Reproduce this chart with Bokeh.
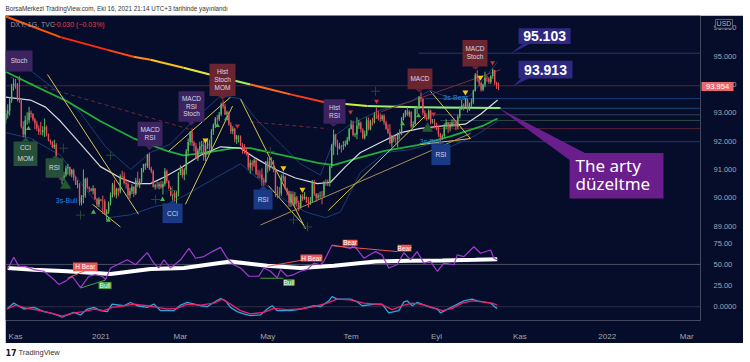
import pandas as pd
from bokeh.plotting import figure
from bokeh.models import Range1d, FixedTicker, ColumnDataSource, Spacer
from bokeh.layouts import column, row
from bokeh.embed import file_html
from bokeh.resources import INLINE
from bokeh.core.properties import value

# ---------------- data (DXY daily, TVC) ----------------
start_date = "2020-10-26"
opens = [92.75, 92.96, 93.06, 93.43, 93.92, 94.04, 94.02, 93.50, 93.43, 92.52,
         92.23, 92.74, 92.74, 93.00, 92.96, 92.76, 92.62, 92.45, 92.32, 92.31,
         92.39, 92.50, 92.23, 92.02, 91.97, 91.79, 91.87, 91.32, 91.13, 90.70,
         90.70, 90.79, 91.04, 91.09, 90.82, 90.97, 90.71, 90.46, 90.47, 89.83,
         90.03, 90.08, 90.66, 90.37, 90.32, 90.25, 90.33, 89.96, 89.76, 89.94,
         89.90, 89.88, 89.43, 89.53, 89.83, 90.10, 90.47, 90.11, 90.32, 90.23,
         90.77, 90.75, 90.51, 90.48, 90.09, 90.23, 90.38, 90.15, 90.61, 90.43,
         90.58, 91.03, 91.19, 91.12, 91.53, 91.04, 90.94, 90.39, 90.43, 90.41,
         90.48, 90.37, 90.49, 90.94, 90.59, 90.36, 90.08, 90.15, 90.00, 90.20,
         90.88, 91.03, 90.80, 90.98, 91.64, 91.97, 92.33, 91.95, 91.83, 91.39,
         91.68, 91.82, 91.88, 91.45, 91.85, 91.92, 91.73, 92.35, 92.57, 92.80,
         92.77, 92.95, 93.29, 93.23, 92.94, 93.02, 92.59, 92.35, 92.44, 92.07,
         92.17, 92.17, 91.85, 91.70, 91.68, 91.56, 91.07, 91.24, 91.15, 91.32,
         90.86, 90.83, 90.82, 90.62, 90.56, 91.28, 91.03, 91.29, 91.27, 90.99,
         90.22, 90.18, 90.15, 90.72, 90.75, 90.32, 90.23, 89.83, 90.13, 89.78,
         90.02, 89.82, 89.66, 90.06, 89.96, 90.03, 89.85, 89.83, 89.89, 90.53,
         90.14, 90.01, 90.08, 90.09, 90.07, 90.55, 90.51, 90.53, 91.11, 91.87,
         92.23, 91.88, 91.75, 91.82, 91.81, 91.85, 91.90, 92.06, 92.44, 92.58,
         92.22, 92.23, 92.55, 92.64, 92.42, 92.13, 92.23, 92.74, 92.42, 92.68,
         92.67, 92.94, 92.93, 92.80, 92.78, 92.90, 92.66, 92.44, 92.30, 91.93,
         92.17, 92.06, 92.05, 92.28, 92.26, 92.80, 92.93, 93.07, 92.93, 93.03,
         92.51, 92.60, 93.14, 93.18, 93.55, 93.50, 93.00, 92.83, 92.79, 93.07,
         92.66, 92.66, 92.63, 92.53, 92.25, 92.13, 92.18, 92.52, 92.67, 92.48,
         92.58, 92.66, 92.64, 92.51, 92.86, 93.19, 93.27, 93.22, 93.46, 93.10,
         93.33, 93.37, 93.78, 94.35, 94.23, 94.04, 93.81, 94.00, 94.23, 94.21,
         94.09, 94.30, 94.51, 94.05, 93.97]
highs = [93.12, 93.30, 93.55, 94.02, 94.20, 94.20, 94.05, 94.30, 93.48, 92.70,
         92.90, 93.02, 93.21, 93.08, 92.99, 92.82, 92.72, 92.55, 92.68, 92.53,
         92.80, 92.55, 92.27, 92.06, 92.00, 92.05, 91.93, 91.38, 91.16, 90.93,
         90.92, 91.14, 91.20, 91.10, 91.02, 91.03, 90.76, 90.62, 90.52, 90.10,
         91.00, 90.71, 90.72, 90.40, 90.35, 90.44, 90.35, 90.00, 90.02, 89.96,
         90.08, 89.95, 89.60, 89.87, 90.19, 90.53, 90.62, 90.36, 90.35, 90.83,
         90.95, 90.90, 90.65, 90.55, 90.35, 90.48, 90.42, 90.70, 90.92, 90.68,
         91.05, 91.20, 91.23, 91.55, 91.60, 91.10, 90.99, 90.50, 90.58, 90.55,
         90.60, 90.58, 91.05, 91.00, 90.62, 90.40, 90.19, 90.24, 90.23, 90.91,
         91.15, 91.11, 91.06, 91.72, 92.09, 92.36, 92.45, 92.01, 91.93, 91.75,
         91.98, 92.01, 92.01, 91.97, 92.10, 92.05, 92.43, 92.62, 92.85, 92.92,
         93.03, 93.36, 93.44, 93.33, 93.08, 93.05, 92.67, 92.53, 92.47, 92.22,
         92.21, 92.20, 91.93, 91.90, 91.76, 91.60, 91.35, 91.32, 91.38, 91.36,
         91.00, 90.97, 91.04, 90.71, 91.30, 91.43, 91.42, 91.44, 91.33, 91.01,
         90.41, 90.38, 90.82, 90.91, 90.78, 90.36, 90.26, 90.23, 90.23, 90.20,
         90.07, 89.90, 90.12, 90.13, 90.20, 90.05, 90.02, 90.03, 90.63, 90.64,
         90.17, 90.16, 90.22, 90.24, 90.60, 90.65, 90.64, 91.13, 91.90, 92.41,
         92.25, 92.05, 91.94, 91.87, 92.00, 92.02, 92.15, 92.47, 92.74, 92.72,
         92.30, 92.84, 92.75, 92.70, 92.45, 92.37, 92.84, 92.84, 92.76, 92.82,
         93.02, 93.19, 93.07, 92.98, 92.94, 92.95, 92.72, 92.59, 92.60, 92.22,
         92.22, 92.17, 92.30, 92.42, 92.85, 92.99, 93.10, 93.20, 93.09, 93.05,
         92.70, 93.19, 93.24, 93.59, 93.73, 93.52, 93.09, 92.98, 93.13, 93.11,
         92.78, 92.78, 92.65, 92.56, 92.29, 92.24, 92.62, 92.77, 92.67, 92.68,
         92.77, 92.80, 92.73, 92.94, 93.23, 93.45, 93.33, 93.52, 93.51, 93.36,
         93.50, 93.82, 94.40, 94.50, 94.30, 94.10, 94.03, 94.45, 94.31, 94.26,
         94.33, 94.56, 94.51, 94.10, 94.07]
lows = [92.62, 92.80, 92.90, 93.35, 93.78, 93.85, 93.40, 93.35, 92.45, 92.13,
        92.13, 92.58, 92.63, 92.83, 92.70, 92.42, 92.36, 92.22, 92.22, 92.20,
        92.15, 92.17, 91.99, 91.88, 91.75, 91.72, 91.22, 91.01, 90.63, 90.47,
        90.60, 90.74, 90.82, 90.76, 90.72, 90.60, 90.45, 90.34, 89.73, 89.73,
        89.80, 90.00, 90.30, 90.20, 90.22, 90.12, 89.92, 89.67, 89.67, 89.88,
        89.43, 89.41, 89.21, 89.44, 89.73, 90.01, 90.04, 89.98, 90.05, 90.16,
        90.65, 90.47, 90.32, 89.96, 89.97, 90.13, 90.03, 90.10, 90.38, 90.34,
        90.50, 90.90, 90.98, 91.05, 90.98, 90.87, 90.36, 90.29, 90.33, 90.30,
        90.32, 90.12, 90.41, 90.52, 90.30, 90.05, 89.85, 89.88, 89.68, 90.05,
        90.80, 90.70, 90.62, 90.82, 91.46, 91.85, 91.83, 91.64, 91.36, 91.30,
        91.60, 91.59, 91.31, 91.30, 91.72, 91.62, 91.70, 92.22, 92.46, 92.62,
        92.70, 92.88, 93.15, 92.92, 92.89, 92.54, 92.25, 92.24, 91.96, 91.90,
        91.95, 91.82, 91.56, 91.55, 91.49, 90.98, 90.85, 90.95, 91.10, 90.80,
        90.70, 90.68, 90.42, 90.42, 90.51, 90.89, 90.95, 91.05, 90.90, 90.03,
        89.98, 90.01, 90.07, 90.58, 90.29, 90.08, 89.69, 89.68, 89.73, 89.73,
        89.70, 89.53, 89.62, 89.89, 89.93, 89.82, 89.66, 89.75, 89.83, 90.06,
        89.86, 89.94, 89.98, 89.77, 90.03, 90.42, 90.42, 90.40, 91.05, 91.51,
        91.80, 91.51, 91.71, 91.60, 91.69, 91.80, 91.86, 91.99, 92.41, 92.17,
        92.14, 92.07, 92.43, 92.31, 92.07, 92.06, 92.18, 92.38, 92.38, 92.55,
        92.62, 92.78, 92.73, 92.68, 92.71, 92.58, 92.40, 92.25, 91.89, 91.78,
        91.97, 91.92, 91.78, 92.06, 92.21, 92.73, 92.85, 92.88, 92.85, 92.47,
        92.46, 92.58, 92.95, 93.13, 93.38, 92.91, 92.77, 92.72, 92.76, 92.59,
        92.62, 92.49, 92.38, 92.15, 91.94, 92.05, 92.13, 92.42, 92.29, 92.34,
        92.48, 92.50, 92.38, 92.42, 92.80, 93.10, 93.08, 93.15, 93.01, 93.07,
        93.20, 93.30, 93.75, 94.10, 93.93, 93.75, 93.76, 93.90, 94.09, 94.02,
        94.02, 94.20, 93.98, 93.84, 93.80]
closes = [92.96, 93.06, 93.43, 93.92, 94.04, 94.02, 93.50, 93.43, 92.52, 92.23,
          92.74, 92.74, 93.00, 92.96, 92.76, 92.62, 92.45, 92.32, 92.31, 92.39,
          92.50, 92.23, 92.02, 91.97, 91.79, 91.87, 91.32, 91.13, 90.70, 90.70,
          90.79, 91.04, 91.09, 90.82, 90.97, 90.71, 90.46, 90.47, 89.83, 90.03,
          90.08, 90.66, 90.37, 90.32, 90.25, 90.33, 89.96, 89.76, 89.94, 89.90,
          89.88, 89.43, 89.53, 89.83, 90.10, 90.47, 90.11, 90.32, 90.23, 90.77,
          90.75, 90.51, 90.48, 90.09, 90.23, 90.38, 90.15, 90.61, 90.43, 90.58,
          91.03, 91.19, 91.12, 91.53, 91.04, 90.94, 90.39, 90.43, 90.41, 90.48,
          90.37, 90.49, 90.94, 90.59, 90.36, 90.08, 90.15, 90.00, 90.20, 90.88,
          91.03, 90.80, 90.98, 91.64, 91.97, 92.33, 91.95, 91.83, 91.39, 91.68,
          91.82, 91.88, 91.45, 91.85, 91.92, 91.73, 92.35, 92.57, 92.80, 92.77,
          92.95, 93.29, 93.23, 92.94, 93.02, 92.59, 92.35, 92.44, 92.07, 92.17,
          92.17, 91.85, 91.70, 91.68, 91.56, 91.07, 91.24, 91.15, 91.32, 90.86,
          90.83, 90.82, 90.62, 90.56, 91.28, 91.03, 91.29, 91.27, 90.99, 90.22,
          90.18, 90.15, 90.72, 90.75, 90.32, 90.23, 89.83, 90.13, 89.78, 90.02,
          89.82, 89.66, 90.06, 89.96, 90.03, 89.85, 89.83, 89.89, 90.53, 90.14,
          90.01, 90.08, 90.09, 90.07, 90.55, 90.51, 90.53, 91.11, 91.87, 92.23,
          91.88, 91.75, 91.82, 91.81, 91.85, 91.90, 92.06, 92.44, 92.58, 92.22,
          92.23, 92.55, 92.64, 92.42, 92.13, 92.23, 92.74, 92.42, 92.68, 92.67,
          92.94, 92.93, 92.80, 92.78, 92.90, 92.66, 92.44, 92.30, 91.93, 92.17,
          92.06, 92.05, 92.28, 92.26, 92.80, 92.93, 93.07, 92.93, 93.03, 92.51,
          92.60, 93.14, 93.18, 93.55, 93.50, 93.00, 92.83, 92.79, 93.07, 92.66,
          92.66, 92.63, 92.53, 92.25, 92.13, 92.18, 92.52, 92.67, 92.48, 92.58,
          92.66, 92.64, 92.51, 92.86, 93.19, 93.27, 93.22, 93.46, 93.10, 93.33,
          93.37, 93.78, 94.35, 94.23, 94.04, 93.81, 94.00, 94.23, 94.21, 94.09,
          94.30, 94.51, 94.05, 93.97, 93.954]

# overlays on price pane (bar index, price)
white_x = [0, 12.7, 20.5, 28.2, 38.5, 48.8, 59.1, 66.9, 74.6, 82.3, 90.1, 100.4, 110.7, 121.0,
           128.7, 139.0, 149.3, 160.7, 167.4, 175.1, 182.8, 193.1, 203.5, 213.8, 226.6, 236.9, 244.7, 253.5]
white_v = [93.55, 93.45, 93.2, 92.7, 91.9, 91.1, 90.7, 90.5, 90.5, 90.75, 91.05, 91.5, 91.8, 91.75,
           91.4, 91.0, 90.7, 90.5, 90.55, 91.1, 91.6, 91.95, 92.3, 92.45, 92.55, 92.6, 92.95, 93.45]
green_x = [0, 14.3, 31.8, 48.8, 65.8, 83.4, 91.6, 104.0, 117.4, 126.1, 143.1, 160.7, 168.9, 177.7,
           194.7, 212.2, 229.2, 246.2, 253.5]
green_v = [94.45, 93.97, 93.4, 92.7, 92.1, 91.65, 91.5, 91.6, 91.75, 91.75, 91.5, 91.23, 91.15, 91.33,
           91.65, 91.86, 92.17, 92.55, 92.8]
slow_x = [0, 28.2, 52.4, 65.8, 74.6, 91.6, 109.1, 126.1, 146.8, 163.8, 186.4, 212.2, 255.0]
slow_v = [96.40, 95.67, 95.22, 94.98, 94.87, 94.59, 94.28, 94.00, 93.65, 93.38, 93.24, 93.20, 93.17]
slow_colors = ["#ff5a00", "#ff2a10", "#ff4a10", "#ff8c1a", "#ffc21a", "#e8e83a", "#a6ee5a",
               "#ff6a1a", "#ff3a1a", "#d4ee3a", "#9cf06a", "#8cf07a"]
band_up_x = [0, 12.7, 25.6, 38.5, 51.4, 64.3, 74.6, 84.9, 97.8, 110.7, 121.0, 128.7, 141.6, 151.9,
             162.2, 170.0, 177.7, 193.1, 208.6, 218.9, 229.2, 239.5, 253.5]
band_up_v = [94.6, 94.5, 93.8, 93.0, 91.8, 91.0, 91.6, 91.9, 92.8, 93.6, 93.5, 92.8, 91.9, 91.2,
             90.8, 92.2, 92.6, 93.1, 93.4, 93.8, 93.5, 93.6, 94.8]
band_lo_x = [0, 12.7, 28.2, 40.0, 53.0, 64.3, 77.2, 84.9, 95.2, 108.0, 121.0, 131.3, 144.2, 154.5,
             164.8, 172.5, 182.8, 195.7, 208.6, 218.9, 229.2, 242.1, 253.5]
band_lo_v = [92.3, 92.1, 91.5, 90.4, 89.3, 89.4, 89.7, 89.8, 90.2, 90.7, 91.2, 90.6, 89.9, 89.5,
             89.3, 89.5, 90.9, 91.6, 91.7, 91.9, 91.8, 92.2, 92.7]

# RSI pane
rsi_x = [1, 4.1, 6.7, 10.2, 14.5, 19.6, 24.8, 27.3, 30.8, 34.2, 38.5, 42.8, 46.2, 49.7, 51.4,
         54.0, 57.4, 62.6, 66.9, 72.9, 76.3, 78.9, 81.5, 84.9, 90.1, 94.4, 97.8, 102.1, 106.4,
         110.7, 114.1, 117.5, 121.0, 125.3, 130.4, 133.0, 136.4, 139.9, 141.6, 145.0, 148.5,
         151.9, 155.3, 158.8, 162.2, 163.9, 168.2, 173.4, 177.7, 179.4, 184.6, 188.9, 190.6,
         194.0, 197.4, 201.7, 205.2, 208.6, 212.0, 215.5, 218.9, 222.4, 225.8, 231.0, 232.7,
         236.1, 241.3, 244.7, 249.9, 251.6, 253.3]
rsi_v = [44.4, 58.7, 47.6, 47.6, 43.6, 41.7, 31.7, 25.8, 29.8, 35.7, 21.8, 35.7, 37.7, 35.7, 31.7,
         45.6, 49.6, 55.6, 49.6, 64.3, 51.6, 45.6, 55.6, 45.6, 55.6, 69.4, 57.5, 59.5, 65.5,
         70.6, 57.5, 49.6, 45.6, 35.7, 35.7, 45.6, 41.7, 33.7, 43.7, 35.7, 37.7,
         41.7, 43.7, 51.6, 49.6, 53.6, 73.4, 71.4, 69.4, 73.4, 57.5, 63.5, 65.5,
         61.5, 45.6, 49.6, 64.3, 55.6, 65.5, 51.6, 53.6, 41.7, 51.6, 49.6, 61.5,
         59.5, 71.4, 63.5, 67.5, 57.5, 55.6]
rsi_ma_x = [1, 14.5, 31.6, 54.0, 74.6, 91.8, 115.8, 134.7, 151.9, 169.1, 190.6, 207.8, 225.0, 242.1, 253.3]
rsi_ma_v = [45.6, 43.6, 41.7, 38.5, 44.4, 45.6, 53.6, 48.4, 45.6, 48.4, 53.6, 54.4, 54.8, 55.6, 56.3]

# MACD pane
macd_x = [0.7, 4.1, 9.3, 14.5, 19.6, 24.8, 29.1, 31.6, 35.1, 38.5, 42.0, 45.4, 48.8, 52.3, 54.8,
          60.8, 64.3, 67.7, 72.9, 76.3, 79.8, 86.6, 90.1, 93.5, 100.4, 103.8, 107.2, 110.7, 113.3,
          115.8, 119.3, 122.7, 126.1, 131.3, 134.7, 137.3, 139.9, 146.8, 151.9, 158.8, 162.2,
          166.5, 168.2, 170.8, 177.7, 181.1, 183.7, 190.6, 194.0, 197.4, 202.6, 205.2, 206.9,
          209.5, 212.0, 218.9, 222.4, 224.1, 230.1, 236.1, 240.4, 243.0, 249.9, 252.4, 253.3]
macd_v = [-0.058, 0.092, -0.058, -0.017, -0.125, -0.183, -0.267, -0.208, -0.142, -0.208, -0.058,
          -0.017, -0.1, -0.125, 0.067, 0.025, 0.108, 0.025, -0.017, 0.067, -0.1, -0.1, 0.042, 0.108,
          0.025, 0.0, 0.108, 0.208, 0.15, -0.017, -0.125, -0.183, -0.225, -0.208, -0.058, 0.025,
          -0.1, -0.1, -0.058, 0.025, 0.0, 0.15, 0.258, 0.192, 0.192, 0.125, 0.025, 0.067, 0.067,
          -0.158, -0.1, 0.125, 0.15, 0.025, 0.108, -0.017, -0.058, -0.158, 0.0, 0.15, 0.192, 0.15,
          0.092, -0.017, -0.042]
signal_x = [0.7, 5.0, 11.0, 17.9, 23.0, 29.1, 35.1, 40.2, 45.4, 50.5, 54.8, 60.8, 66.0, 72.9, 78.0,
            83.2, 88.3, 93.5, 100.4, 107.2, 111.5, 115.8, 121.0, 126.1, 133.0, 138.2, 145.0, 151.9,
            158.8, 165.6, 170.8, 177.7, 184.6, 190.6, 194.0, 199.2, 204.3, 209.5, 214.6, 219.8,
            225.0, 230.1, 235.2, 240.4, 245.6, 250.7, 253.3]
signal_v = [-0.058, 0.042, -0.042, -0.1, -0.158, -0.242, -0.158, -0.125, -0.058, -0.1, -0.017, 0.025,
            0.067, 0.025, -0.017, -0.058, -0.042, 0.067, 0.042, 0.092, 0.192, 0.067, -0.1, -0.183,
            -0.142, -0.042, -0.075, -0.058, 0.0, 0.092, 0.192, 0.175, 0.092, 0.067, 0.05, -0.075,
            0.025, 0.092, 0.058, -0.017, -0.1, -0.042, 0.092, 0.15, 0.125, 0.092, 0.042]

# axes
month_starts = ["2020-11-01", "2021-01-01", "2021-03-01", "2021-05-01", "2021-07-01",
                "2021-09-01", "2021-11-01", "2022-01-01", "2022-03-01"]
month_labels = ["Kas", "2021", "Mar", "May", "Tem", "Eyl", "Kas", "2022", "Mar"]
price_ticks = [96, 95, 94, 93, 92, 91, 90, 89]
price_tick_labels = ["96.000", "95.000", "94.000", "93.000", "92.000", "91.000", "90.000", "89.000"]
rsi_ticks = [75, 50, 25]
rsi_tick_labels = ["75.00", "50.00", "25.00"]
macd_ticks = [0]
macd_tick_labels = ["0.0000"]

# drawings (bar index, price)
yellow_lines = [((21.5, 94.35), (68.4, 89.42)), ((44.7, 89.77), (59.1, 88.97)),
                ((83.9, 91.64), (115.8, 93.55)), ((92.6, 89.77), (116.9, 93.24)),
                ((121.0, 93.48), (154.5, 88.90)), ((135.4, 90.43), (153.5, 89.04)),
                ((166.3, 89.56), (216.3, 92.90)), ((218.9, 93.76), (239.5, 92.09)),
                ((239.5, 92.09), (213.8, 91.88))]
tan_lines = [((131.3, 89.04), (239.5, 92.27))]
dark_red_lines = [((193.1, 93.03), (255.0, 94.52))]
dashed_lines = [((2.4, 94.25), (95.2, 92.41)), ((126.1, 92.68), (165.8, 92.44))]
h_levels = [95.103, 93.50, 93.16, 92.93, 92.73, 92.44, 91.98]
h_starts = [212.7, 216.0, 222.0, 218.0, 224.0, 214.0, 220.0]
h_colors = ["#1f3a78", "#1f3a78", "#1d4a6c", "#343c58", "#2b4a40", "#5a2330", "#1f3a78"]
last_price = 93.954
last_price_text = "93.954"
currency = "USD"

# signal label boxes: lines, x0, x1, top, bottom, tip_x, tip_y, text ys, kind
sig_boxes = [
    (["Stoch"], -0.2, 13.76, 95.20, 94.46, None, None, [94.84], "purple"),
    (["CCI", "MOM"], 4.0, 16.3, 91.99, 91.12, 10.2, 92.13, [91.77, 91.40], "green"),
    (["RSI"], 20.5, 29.7, 91.40, 90.71, 25.6, 91.50, [91.07], "green"),
    (["MACD", "RSI"], 67.9, 80.8, 92.68, 91.82, 74.1, 91.68, [92.40, 92.12], "purple"),
    (["MACD", "RSI", "Stoch"], 89.0, 102.4, 93.76, 92.68, 95.7, 92.55, [93.50, 93.23, 92.96], "purple"),
    (["Hist", "Stoch", "MOM"], 105.0, 118.4, 94.73, 93.59, 111.7, 93.45, [94.45, 94.18, 93.90], "red"),
    (["CCI"], 80.8, 91.1, 89.80, 89.11, 85.9, 89.91, [89.46], "blue"),
    (["RSI"], 127.7, 137.5, 90.29, 89.59, 132.8, 90.43, [89.95], "blue"),
    (["Hist", "RSI"], 163.8, 175.1, 93.48, 92.61, 168.9, 92.51, [93.20, 92.92], "purple"),
    (["MACD"], 207.1, 219.9, 94.56, 93.83, 213.2, 93.73, [94.22], "red"),
    (["MACD", "Stoch"], 235.4, 248.3, 95.57, 94.63, 242.1, 94.52, [95.26, 94.98], "red"),
    (["RSI"], 219.4, 229.2, 91.89, 91.16, 224.1, 91.99, [91.53], "blue"),
]
box_fill = {"purple": "#3d2360", "green": "#26503a", "red": "#6b2530", "blue": "#1a3a85"}

three_s = [("3s-Bull", 31.3, 89.91), ("3s-Bear", 231.8, 93.55), ("3s-Bull", 218.9, 91.99)]

red_tri_x = [95.7, 119.4, 128.2, 177.7, 191.1, 220.5, 250.9]
red_tri_y = [92.72, 92.54, 91.19, 93.03, 93.41, 92.96, 94.77]
yel_tri_x = [102.9, 143.1, 152.9, 236.9, 244.7]
yel_tri_y = [92.03, 91.05, 90.29, 93.73, 94.25]
grn_tri_x = [11.7, 45.2, 52.9, 80.8, 109.1, 113.8, 104.0, 204.5, 212.7]
grn_tri_y = [92.44, 89.49, 89.21, 89.94, 92.55, 92.79, 91.58, 92.61, 92.89]
big_tri_x = [30.8, 217.4]
big_tri_y = [90.43, 92.44]
cross_x = [14.3, 29.7, 38.5, 54.0, 77.2, 85.9, 136.4, 148.3, 155.5, 190.6]
cross_y = [91.92, 91.75, 89.39, 91.50, 89.94, 90.26, 91.64, 89.22, 88.97, 93.76]

# RSI divergences (bar index, RSI value)
div_lines = [((31.8, 33.3), (44.7, 46.4), "red"), ((38.5, 21.4), (51.4, 31.0), "green"),
             ((134.9, 47.6), (157.1, 57.1), "red"), ((131.3, 33.3), (143.1, 33.3), "green"),
             ((168.4, 72.6), (201.9, 65.5), "red")]
div_labels = [("H Bear", 34.6, 47.3, 52.4, 41.7, "red"), ("Bull", 47.8, 54.5, 28.6, 20.2, "green"),
              ("H Bear", 151.9, 163.2, 61.9, 53.6, "red"), ("Bull", 143.1, 148.8, 32.1, 23.8, "green"),
              ("Bear", 173.6, 181.3, 79.8, 72.6, "red"), ("Bear", 201.9, 209.1, 73.8, 65.5, "red")]

# callouts
callouts = [
    dict(text=["95.103"], box=(264.3, 291.1, 95.98, 95.43), ty=[95.70], tx=277.7,
         ptr=[(260.2, 95.08), (266.9, 95.46), (271.0, 95.46)], fill="#2e2882", size="14px"),
    dict(text=["93.913"], box=(264.3, 292.1, 94.84, 94.21), ty=[94.52], tx=278.2,
         ptr=[(261.2, 93.93), (265.8, 94.23), (269.9, 94.23)], fill="#2e2882", size="14px"),
    dict(text=["The arty", "düzeltme"], box=(290.6, 339.0, 91.58, 89.98), ty=[91.15, 90.50], tx=293.7,
         ptr=[(254.0, 93.17), (290.6, 91.33), (298.8, 91.57)], fill="#6a1e8c", size="17px"),
]

header_text = "BorsaMerkezi TradingView.com, Eki 16, 2021 21:14 UTC+3 tarihinde yayınlandı"

# ---------------- layout ----------------
BG = "#050d2a"
X0, X1 = -0.155, 358.09
P_LO, P_HI = 85.670, 96.434
RSI_LO, RSI_HI = -17.86, 351.19
M_LO, M_HI = -0.35, 7.40
UP, DOWN = "#5fb865", "#e5505a"
FONT = value("Liberation Sans")


def to_price(v, lo, hi):
    return round(P_LO + (v - lo) / (hi - lo) * (P_HI - P_LO), 6)


p = figure(width=738, height=328, x_range=Range1d(X0, X1), y_range=Range1d(P_LO, P_HI),
           y_axis_location="right", output_backend="svg", toolbar_location=None,
           min_border_left=0, min_border_top=0, min_border_right=43, min_border_bottom=18,
           background_fill_color=BG, border_fill_color=BG, outline_line_color=None)
p.extra_y_ranges = {"rsi": Range1d(RSI_LO, RSI_HI), "macd": Range1d(M_LO, M_HI)}
p.grid.visible = False

# axes
dates = pd.bdate_range(start_date, "2022-04-29")
x_ticks = [int((dates < pd.Timestamp(m)).sum()) for m in month_starts]
p.xaxis.ticker = FixedTicker(ticks=x_ticks)
p.xaxis.major_label_overrides = {t: l for t, l in zip(x_ticks, month_labels)}
y_ticks, y_over = [], {}
for t, l in zip(price_ticks, price_tick_labels):
    y_ticks.append(float(t)); y_over[float(t)] = l
for t, l in zip(rsi_ticks, rsi_tick_labels):
    k = to_price(t, RSI_LO, RSI_HI); y_ticks.append(k); y_over[k] = l
for t, l in zip(macd_ticks, macd_tick_labels):
    k = to_price(t, M_LO, M_HI); y_ticks.append(k); y_over[k] = l
p.yaxis.ticker = FixedTicker(ticks=y_ticks)
p.yaxis.major_label_overrides = y_over
for ax in (p.xaxis[0], p.yaxis[0]):
    ax.axis_line_color = None
    ax.major_tick_line_color = None
    ax.minor_tick_line_color = None
    ax.major_label_text_color = "#a3a6af"
    ax.major_label_text_font = "Liberation Sans"
p.xaxis.major_label_text_font_size = "8px"
p.xaxis.major_label_standoff = 5
p.yaxis.major_label_text_font_size = "7.5px"
p.yaxis.major_label_standoff = 7

# pane level lines
p.segment(x0=[X0], x1=[X1], y0=[50], y1=[50], y_range_name="rsi", line_color="#4b5064", line_width=1)
p.segment(x0=[X0], x1=[X1], y0=[0], y1=[0], y_range_name="macd", line_color="#2a3048", line_width=1)

# price line + horizontal levels
p.segment(x0=[X0], x1=[X1], y0=[last_price], y1=[last_price], line_color="#5a2330", line_width=1)
p.segment(x0=h_starts, x1=[X1] * len(h_levels), y0=h_levels, y1=h_levels, line_color=h_colors, line_width=1)

# bands
p.line(band_up_x, band_up_v, line_color="#1c3d7a", line_width=1)
p.line(band_lo_x, band_lo_v, line_color="#1c3d7a", line_width=1)

# dashed lines
for (a, b) in dashed_lines:
    p.line([a[0], b[0]], [a[1], b[1]], line_color="#6b2a3a", line_width=1, line_dash="4 3")

# moving averages
p.segment(x0=slow_x[:-1], y0=slow_v[:-1], x1=slow_x[1:], y1=slow_v[1:], line_color=slow_colors, line_width=2)
p.line(green_x, green_v, line_color="#1fae3a", line_width=1.8)
p.line(white_x, white_v, line_color="#d9d9de", line_width=1.2)

# trend lines
for (a, b) in yellow_lines:
    p.line([a[0], b[0]], [a[1], b[1]], line_color="#d8c84a", line_width=1)
for (a, b) in tan_lines:
    p.line([a[0], b[0]], [a[1], b[1]], line_color="#a88c5a", line_width=1)
for (a, b) in dark_red_lines:
    p.line([a[0], b[0]], [a[1], b[1]], line_color="#7a2e3a", line_width=1)

# candles
xs = list(range(len(closes)))
colors = [UP if c >= o else DOWN for o, c in zip(opens, closes)]
src = ColumnDataSource(dict(x=xs, h=highs, l=lows, top=[max(o, c) for o, c in zip(opens, closes)],
                            bot=[min(o, c) for o, c in zip(opens, closes)], color=colors))
p.segment(x0="x", x1="x", y0="l", y1="h", line_color="color", line_width=1, source=src)
p.vbar(x="x", width=0.72, top="top", bottom="bot", fill_color="color", line_color=None, source=src)

# markers
p.scatter(cross_x, cross_y, marker="cross", size=9, line_color="#2a4636", line_width=1)
p.scatter(big_tri_x, big_tri_y, marker="triangle", size=11, fill_color="#1f5a30", line_color=None)
p.scatter(grn_tri_x, grn_tri_y, marker="triangle", size=5, fill_color="#4caf50", line_color=None)
p.scatter(red_tri_x, red_tri_y, marker="inverted_triangle", size=5, fill_color="#c62f3e", line_color=None)
p.scatter(yel_tri_x, yel_tri_y, marker="inverted_triangle", size=6, fill_color="#f5c518", line_color=None)

# signal boxes
for lines, x0, x1, top, bot, tx, ty, tys, kind in sig_boxes:
    col = box_fill[kind]
    p.quad(left=[x0], right=[x1], top=[top], bottom=[bot], fill_color=col, line_color=None)
    if tx is not None:
        base = top if ty > top else bot
        p.patch([tx - 2.05, tx + 2.05, tx], [base, base, ty], fill_color=col, line_color=None)
    cx = (x0 + x1) / 2
    p.text(x=[cx] * len(lines), y=tys, text=lines, text_font=FONT, text_font_size=value("6.5px"),
           text_color="#d8d8e2", text_align="center", text_baseline="middle")

for t, x, y in three_s:
    p.text(x=[x], y=[y], text=[t], text_font=FONT, text_font_size=value("7px"), text_color="#1e88e5",
           text_align="center", text_baseline="middle")

# RSI pane lines
p.line(rsi_ma_x, rsi_ma_v, y_range_name="rsi", line_color="white", line_width=4)
p.line(rsi_x, rsi_v, y_range_name="rsi", line_color="#a23ccf", line_width=1.2)
div_col = {"red": "#f05454", "green": "#43a047"}
for a, b, c in div_lines:
    p.line([a[0], b[0]], [a[1], b[1]], y_range_name="rsi", line_color=div_col[c], line_width=1)
for t, x0, x1, top, bot, c in div_labels:
    p.quad(left=[x0], right=[x1], top=[top], bottom=[bot], y_range_name="rsi", fill_color=div_col[c], line_color=None)
    p.text(x=[(x0 + x1) / 2], y=[(top + bot) / 2], text=[t], y_range_name="rsi", text_font=FONT,
           text_font_size=value("6.5px"), text_color="white", text_align="center", text_baseline="middle")

# MACD pane
p.line(macd_x, macd_v, y_range_name="macd", line_color="#2aa7dd", line_width=1.3)
p.line(signal_x, signal_v, y_range_name="macd", line_color="#ec1f6a", line_width=1.3)

# callouts
for co in callouts:
    x0, x1, top, bot = co["box"]
    p.patch([q[0] for q in co["ptr"]], [q[1] for q in co["ptr"]], fill_color=co["fill"], line_color=None)
    p.quad(left=[x0], right=[x1], top=[top], bottom=[bot], fill_color=co["fill"], line_color=None)
    if len(co["text"]) == 1:
        p.text(x=[co["tx"]], y=co["ty"], text=co["text"], text_font=FONT, text_font_style="bold",
               text_font_size=value(co["size"]), text_color="white", text_align="center", text_baseline="middle")
    else:
        p.text(x=[co["tx"]] * 2, y=co["ty"], text=co["text"], text_font=value("Noto Sans"),
               text_font_size=value(co["size"]), text_color="white", text_align="left", text_baseline="middle")

# legend line top-left
p.text(x=[2.4], y=[96.12], text=["DXY, 1G, TVC"], text_font=FONT, text_font_size=value("7px"),
       text_color="#9598a1", text_baseline="middle")
p.text(x=[24.1], y=[96.12], text=["\u22120.030 (\u22120.03%)"], text_font=FONT, text_font_size=value("7px"),
       text_color="#e0404f", text_baseline="middle")

# price-scale badges (drawn on overlay level, over the axis area)
p.quad(left=[358.6], right=[375.1], top=[94.083], bottom=[93.771], fill_color="#e96a6e",
       line_color=None, level="overlay")
p.text(x=[366.9], y=[93.93], text=[last_price_text], text_font=FONT, text_font_size=value("7.5px"),
       text_color="white", text_align="center", text_baseline="middle", level="overlay")
p.quad(left=[365.8], right=[374.6], top=[96.295], bottom=[95.983], fill_color=BG,
       line_color="#5d606b", line_width=1, level="overlay")
p.text(x=[370.2], y=[96.14], text=[currency], text_font=FONT, text_font_size=value("7px"),
       text_color="#b2b5be", text_align="center", text_baseline="middle", level="overlay")

# header / footer
header = figure(width=750, height=15, x_range=Range1d(0, 750), y_range=Range1d(0, 15), x_axis_location=None,
                y_axis_location=None, output_backend="svg", toolbar_location=None, min_border=0,
                outline_line_color=None, background_fill_color="white", border_fill_color="white")
header.grid.visible = False
header.text(x=[5], y=[7], text=[header_text], text_font=FONT, text_font_size=value("6.3px"),
            text_color="#333333", text_baseline="middle")

footer = figure(width=750, height=19, x_range=Range1d(0, 750), y_range=Range1d(0, 19), x_axis_location=None,
                y_axis_location=None, output_backend="svg", toolbar_location=None, min_border=0,
                outline_line_color=None, background_fill_color="white", border_fill_color="white")
footer.grid.visible = False
footer.text(x=[5], y=[10], text=["17"], text_font=value("DejaVu Sans"), text_font_style="bold",
            text_font_size=value("8px"), text_color="#131722", text_baseline="middle")
footer.text(x=[18], y=[10], text=["TradingView"], text_font=FONT, text_font_size=value("7.5px"),
            text_color="#333333", text_baseline="middle")

layout = column(header, row(Spacer(width=5, height=328), p, spacing=0), footer, spacing=0)
open("out.html", "w").write(file_html(layout, INLINE))
